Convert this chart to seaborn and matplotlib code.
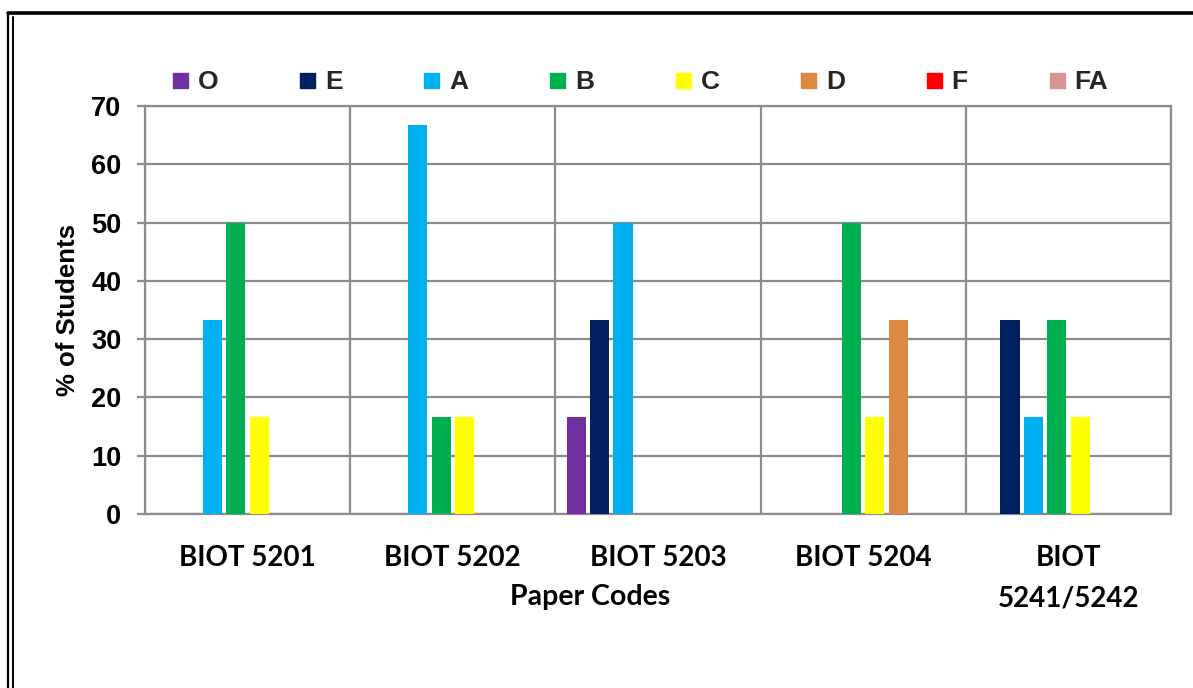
import numpy as np
import pandas as pd
import seaborn as sns
import matplotlib.pyplot as plt
from matplotlib.lines import Line2D

papers = ["BIOT 5201", "BIOT 5202", "BIOT 5203", "BIOT 5204", "BIOT\n5241/5242"]
grades = ["O", "E", "A", "B", "C", "D", "F", "FA"]
O = [0, 0, 16.67, 0, 0]
E = [0, 0, 33.33, 0, 33.33]
A = [33.33, 66.67, 50, 0, 16.67]
B = [50, 16.67, 0, 50, 33.33]
C = [16.67, 16.67, 0, 16.67, 16.67]
D = [0, 0, 0, 33.33, 0]
F = [0, 0, 0, 0, 0]
FA = [0, 0, 0, 0, 0]
colors = ["#7030A0", "#002060", "#00B0F0", "#00B050", "#FFFF00", "#DD8843", "#FF0000", "#D99594"]

series = [O, E, A, B, C, D, F, FA]
rows = []
for g, vals in zip(grades, series):
    for p, v in zip(papers, vals):
        rows.append({"paper": p, "grade": g, "pct": v})
df = pd.DataFrame(rows)

sns.set_theme(style="white")
plt.rcParams["font.family"] = ["Liberation Sans", "DejaVu Sans"]

fig = plt.figure(figsize=(11.93, 6.88), dpi=100)
W, H = 1193, 688
ax = fig.add_axes([145 / W, 1 - 514 / H, (1171 - 145) / W, (514 - 106) / H])

sns.barplot(data=df, x="paper", y="pct", hue="grade", hue_order=grades, order=papers,
            palette=colors, saturation=1, width=0.91, gap=0.18, linewidth=0, legend=False,
            ax=ax, errorbar=None, zorder=3)

grid_c = "#8C8C8C"
ax.set_ylim(0, 70)
ax.set_yticks(np.arange(0, 71, 10))
ax.set_xlim(-0.5, len(papers) - 0.5)
ax.set_xticks(np.arange(-0.5, len(papers), 1.0), minor=True)
ax.grid(True, axis="y", color=grid_c, lw=1.6, zorder=0)
ax.grid(True, axis="x", which="minor", color=grid_c, lw=1.6, zorder=0)
ax.grid(False, axis="x", which="major")
ax.set_axisbelow(True)
for s in ax.spines.values():
    s.set_color(grid_c)
    s.set_linewidth(1.6)

ax.tick_params(axis="y", which="major", length=6, width=1.6, color=grid_c, pad=11, left=True,
               labelsize=19.5)
ax.tick_params(axis="x", which="both", length=0, pad=22)
for lab in ax.get_yticklabels():
    lab.set_fontweight("bold")
    lab.set_color("black")
for lab in ax.get_xticklabels():
    lab.set_fontfamily(["Lato", "DejaVu Sans"])
    lab.set_fontweight("bold")
    lab.set_fontsize(20)
    lab.set_color("black")
    lab.set_linespacing(1.69)
    lab.set_va("top")

ax.set_xlabel("Paper Codes", fontsize=20.5, fontweight="bold", family=["Lato", "DejaVu Sans"],
              color="black")
ax.xaxis.set_label_coords((590 - 145) / 1026, (514 - 597) / 408)
ax.xaxis.label.set_va("center")
ax.set_ylabel("% of Students", fontsize=18.5, fontweight="bold", color="black")
ax.yaxis.set_label_coords((68 - 145) / 1026, 0.5)
ax.yaxis.label.set_va("center")

handles = [Line2D([], [], marker="s", ls="", color=c, markersize=10.8) for c in colors]
fig.legend(handles, grades, ncol=8, loc="center left",
           bbox_to_anchor=(170 / W, 1 - 82 / H, (1108 - 170) / W, 0), mode="expand",
           frameon=False, borderpad=0, borderaxespad=0, handlelength=0.75, handletextpad=0.3,
           prop={"weight": "bold", "size": 19})

# page frame
fig.add_artist(Line2D([8 / W, 8 / W], [0, 1 - 13 / H], transform=fig.transFigure, color="black", lw=1.6))
fig.add_artist(Line2D([13 / W, 13 / W], [0, 1 - 17 / H], transform=fig.transFigure, color="black", lw=1.4))
fig.add_artist(Line2D([8 / W, 1], [1 - 13 / H, 1 - 13 / H], transform=fig.transFigure, color="black", lw=2.6))

fig.savefig("out.png", dpi=100)
